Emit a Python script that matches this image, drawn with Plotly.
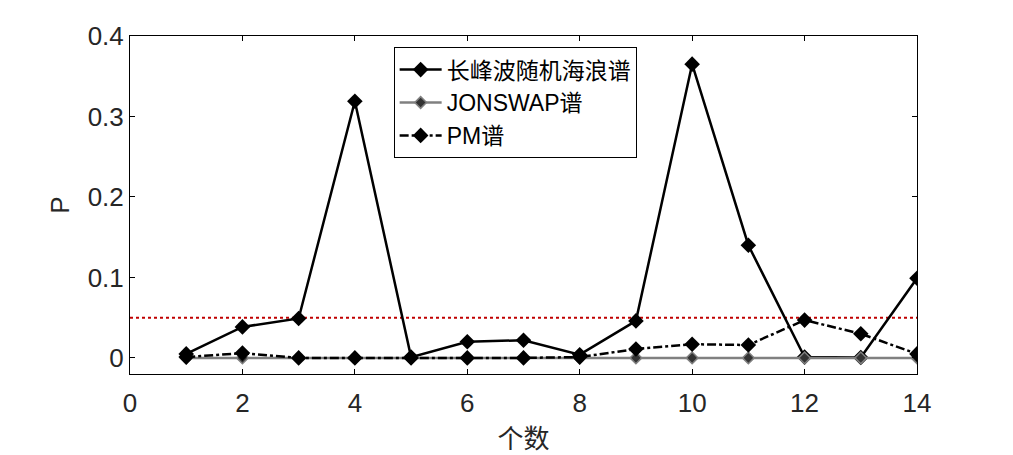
import plotly.graph_objects as go

x = list(range(1, 15))
long_crest = [0.005, 0.0385, 0.049, 0.319, 0.001, 0.020, 0.022, 0.004, 0.046, 0.365, 0.140, 0.001, 0.0005, 0.099]
jonswap = [0.0] * 14
pm = [0.001, 0.006, 0.0, 0.0, 0.0, 0.0, 0.0, 0.001, 0.011, 0.017, 0.016, 0.047, 0.030, 0.005]
threshold = 0.05
names = ["长峰波随机海浪谱", "JONSWAP谱", "PM谱"]
x_ticks = list(range(0, 15, 2))
y_ticks = [0, 0.1, 0.2, 0.3, 0.4]

fig = go.Figure()
fig.add_trace(go.Scatter(x=[0, 14], y=[threshold, threshold], mode="lines",
                         line=dict(color="#c00000", width=2, dash="dot"),
                         showlegend=False, hoverinfo="skip"))
fig.add_trace(go.Scatter(x=x, y=long_crest, name=names[0], mode="lines+markers",
                         line=dict(color="black", width=2.5),
                         marker=dict(symbol="diamond", size=12, color="black")))
fig.add_trace(go.Scatter(x=x, y=jonswap, name=names[1], mode="lines+markers",
                         line=dict(color="#808080", width=2.5),
                         marker=dict(symbol="diamond", size=9, color="#333333",
                                     line=dict(color="#808080", width=1.5))))
fig.add_trace(go.Scatter(x=x, y=pm, name=names[2], mode="lines+markers",
                         line=dict(color="black", width=2.5, dash="dashdot"),
                         marker=dict(symbol="diamond", size=12, color="black")))

axis_common = dict(showline=True, linecolor="black", linewidth=1, mirror="ticks",
                   ticks="inside", ticklen=5, tickcolor="black", showgrid=False,
                   zeroline=False, automargin=False,
                   tickfont=dict(family="Liberation Sans, Arial", size=26, color="#262626"))

fig.update_layout(
    width=1005, height=447,
    margin=dict(l=122, r=96, t=28, b=81),
    paper_bgcolor="white", plot_bgcolor="white",
    xaxis=dict(range=[0, 14], tickvals=x_ticks, ticklabelstandoff=6,
               title=dict(text="个数", font=dict(family="Noto Sans CJK SC", size=26, color="#262626"), standoff=14),
               **axis_common),
    yaxis=dict(range=[-0.02, 0.4], tickvals=y_ticks,
               title=dict(text="P", font=dict(family="Liberation Sans, Arial", size=26, color="#262626"), standoff=10),
               **axis_common),
    legend=dict(x=0.335, y=0.967, xanchor="left", yanchor="top",
                bgcolor="white", bordercolor="black", borderwidth=1,
                font=dict(family="Liberation Sans, Noto Sans CJK SC", size=23, color="black"),
                tracegroupgap=0, itemwidth=42),
    showlegend=True,
)

fig.write_html("out.html")
